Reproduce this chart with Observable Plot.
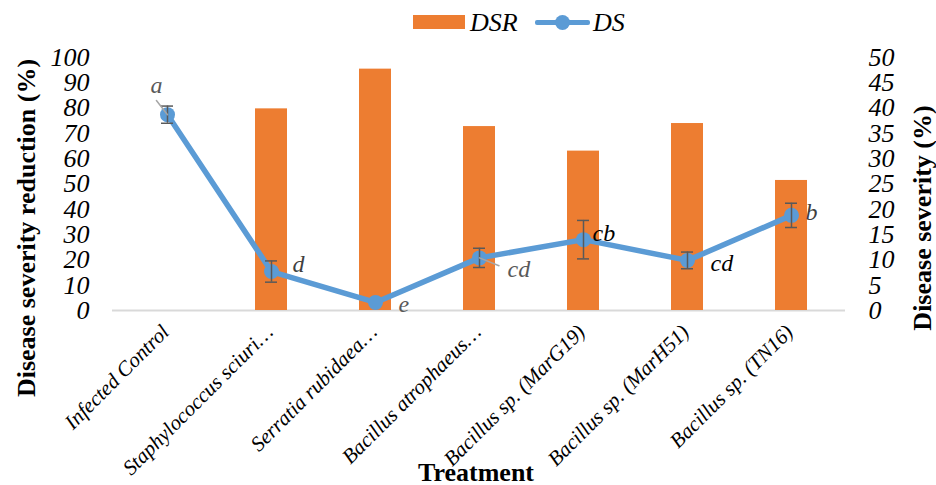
<!DOCTYPE html>
<html>
<head>
<meta charset="utf-8">
<script src="https://cdn.jsdelivr.net/npm/d3@7"></script>
<script src="https://cdn.jsdelivr.net/npm/@observablehq/plot@0.6"></script>
<style>
  html, body { margin: 0; padding: 0; background: #fff; }
  #wrap { width: 936px; }
  #legend { position: relative; height: 40px; width: 936px; font-family: "Liberation Serif", serif; font-style: italic; font-size: 26px; line-height: 26px; color: #000; }
  #legend .sw-bar { position: absolute; left: 413px; top: 15px; width: 52px; height: 14px; background: #ED7D31; }
  #legend .lab { position: absolute; top: 10px; }
  #legend .sw-line { position: absolute; left: 535px; top: 20px; width: 55px; height: 5px; background: #5B9BD5; border-radius: 2px; }
  #legend .sw-dot { position: absolute; left: 555px; top: 15px; width: 15px; height: 15px; border-radius: 50%; background: #5B9BD5; }
  svg { display: block; }
  svg text { font-family: "Liberation Serif", serif; }
</style>
</head>
<body>
<div id="wrap">
  <div id="legend">
    <div class="sw-bar"></div><div class="lab" style="left:470px">DSR</div>
    <div class="sw-line"></div><div class="sw-dot"></div><div class="lab" style="left:593px">DS</div>
  </div>
  <div id="chart"></div>
</div>
<script>
// ---- data ----
const treatments = [
  "Infected Control",
  "Staphylococcus sciuri…",
  "Serratia rubidaea…",
  "Bacillus atrophaeus…",
  "Bacillus sp. (MarG19)",
  "Bacillus sp. (MarH51)",
  "Bacillus sp. (TN16)"
];
const dsr = [0, 79.7, 95.4, 72.7, 63.0, 73.9, 51.4];       // Disease severity reduction (%), left axis
const ds = [38.7, 7.7, 1.6, 10.4, 14.0, 9.9, 18.8];         // Disease severity (%), right axis
const dsErr = [1.7, 2.1, 0, 1.9, 3.8, 1.65, 2.4];           // error bars on DS (none visible for Serratia)
const letters = ["a", "d", "e", "cd", "cb", "cd", "b"];      // significance letters
const leftTicks = [0, 10, 20, 30, 40, 50, 60, 70, 80, 90, 100];
const rightTicks = [0, 5, 10, 15, 20, 25, 30, 35, 40, 45, 50];

// ---- build table ----
const rows = treatments.map((t, i) => ({t, dsr: dsr[i], ds: ds[i], err: dsErr[i], letter: letters[i]}));
const errRows = rows.filter(d => d.err > 0);
const k = leftTicks[leftTicks.length - 1] / rightTicks[rightTicks.length - 1]; // right-axis to left-axis factor

const serif = "Liberation Serif";
const one = i => rows.filter((d, j) => j === i);

function label(i, o) {
  return Plot.text(one(i), {
    x: "t", y: d => d.ds * k, text: "letter",
    fontFamily: serif, fontStyle: "italic", fontSize: 24,
    textAnchor: o.anchor || "start", dx: o.dx, dy: o.dy, fill: o.fill
  });
}
const lineShape = { draw(context, l) { context.moveTo(0, 0); context.lineTo(0, -l); } };

const chart = Plot.plot({
  width: 936,
  height: 445,
  marginTop: 17,
  marginBottom: 175,
  marginLeft: 112,
  marginRight: 91,
  style: { fontFamily: serif, background: "white", color: "#000", overflow: "visible" },
  x: { domain: treatments, padding: 0, axis: null },
  y: { domain: [0, 100], axis: null },
  marks: [
    Plot.ruleY([0], { stroke: "#D9D9D9", strokeWidth: 2 }),
    Plot.barY(rows, { x: "t", y: "dsr", fill: "#ED7D31", insetLeft: 36, insetRight: 36 }),
    Plot.line(rows, { x: "t", y: d => d.ds * k, stroke: "#5B9BD5", strokeWidth: 5.5, strokeLinejoin: "round" }),
    Plot.dot(rows, { x: "t", y: d => d.ds * k, r: 7.5, fill: "#5B9BD5" }),
    Plot.ruleX(errRows, { x: "t", y1: d => (d.ds - d.err) * k, y2: d => (d.ds + d.err) * k, stroke: "#595959", strokeWidth: 1.5 }),
    Plot.tickY(errRows, { x: "t", y: d => (d.ds - d.err) * k, insetLeft: 46, insetRight: 46, stroke: "#595959", strokeWidth: 1.5 }),
    Plot.tickY(errRows, { x: "t", y: d => (d.ds + d.err) * k, insetLeft: 46, insetRight: 46, stroke: "#595959", strokeWidth: 1.5 }),
    // leader lines
    Plot.vector(one(0), { x: "t", y: d => d.ds * k, length: 18, rotate: -38, anchor: "start", shape: lineShape, stroke: "#A6A6A6", strokeWidth: 1.5 }),
    Plot.vector(one(3), { x: "t", y: d => d.ds * k, length: 21, rotate: 112, anchor: "start", shape: lineShape, stroke: "#A6A6A6", strokeWidth: 1.5 }),
    // significance letters
    label(0, { anchor: "middle", dx: -11, dy: -29, fill: "#595959" }),
    label(1, { dx: 21, dy: -7, fill: "#404040" }),
    label(2, { dx: 23, dy: 2, fill: "#595959" }),
    label(3, { dx: 28, dy: 11, fill: "#595959" }),
    label(4, { dx: 9, dy: -6, fill: "#000" }),
    label(5, { dx: 23, dy: 3, fill: "#000" }),
    label(6, { dx: 14, dy: -3, fill: "#404040" }),
    // axes
    Plot.axisY({ anchor: "left", ticks: leftTicks, tickSize: 0, tickPadding: 23, textAnchor: "end", fontSize: 26, fontStyle: "italic", fontFamily: serif, label: null }),
    Plot.axisY({ anchor: "right", ticks: rightTicks.map(v => v * k), tickFormat: d => d / k, tickSize: 0, tickPadding: 23, textAnchor: "start", fontSize: 26, fontStyle: "italic", fontFamily: serif, label: null }),
    Plot.axisX({ ticks: treatments, tickRotate: -45, tickSize: 0, tickPadding: 18, dx: -2, fontSize: 21, fontStyle: "italic", fontFamily: serif, label: null }),
    // axis titles
    Plot.text(["Disease severity reduction (%)"], { frameAnchor: "left", textAnchor: "middle", lineAnchor: "middle", rotate: -90, dx: -86, dy: 44, fontSize: 26, fontWeight: "bold", fontFamily: serif, fill: "#000" }),
    Plot.text(["Disease severity (%)"], { frameAnchor: "right", textAnchor: "middle", lineAnchor: "middle", rotate: -90, dx: 77, dy: 34, fontSize: 26, fontWeight: "bold", fontFamily: serif, fill: "#000" }),
    Plot.text(["Treatment"], { frameAnchor: "bottom", textAnchor: "middle", lineAnchor: "middle", dx: -3, dy: 162, fontSize: 26, fontWeight: "bold", fontFamily: serif, fill: "#000" })
  ]
});
document.getElementById("chart").appendChild(chart);
</script>
</body>
</html>
